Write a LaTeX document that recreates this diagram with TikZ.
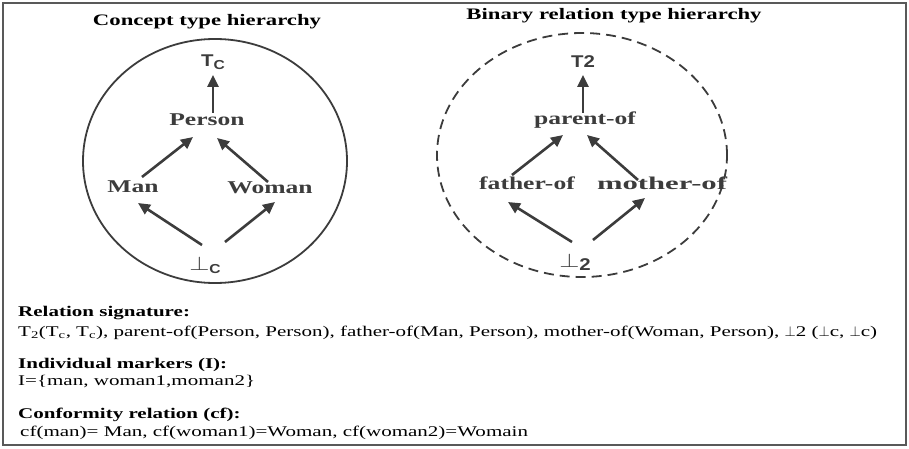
\documentclass[tikz,border=0pt]{standalone}
\usepackage{fontspec}
\setmainfont{Liberation Serif}[FakeStretch=1.42]
\newfontfamily\lsans{Liberation Sans}[FakeStretch=1.2]
\usetikzlibrary{arrows.meta,calc}
\definecolor{ink}{RGB}{60,60,60}
\newcommand{\bperp}{\scalebox{1.5}[1.15]{$\perp$}}
\tikzset{
  lbl/.style={font=\fontsize{18}{20}\selectfont\bfseries, text=ink, inner sep=1pt},
  top/.style={font=\fontsize{17}{18}\selectfont\lsans\bfseries, text=ink, inner sep=1pt},
  ttl/.style={font=\fontsize{16}{20}\selectfont\bfseries, text=black, inner sep=1pt},
  txt/.style={font=\fontsize{14.8}{18}\selectfont, anchor=west, inner sep=0pt},
  txtb/.style={font=\fontsize{14.8}{18}\selectfont\bfseries, anchor=west, inner sep=0pt},
  arr/.style={draw=ink, line width=2.6pt, -{Triangle[length=12pt,width=11pt]}},
  circ/.style={draw=ink, line width=1.8pt},
}
\begin{document}
\begin{tikzpicture}[x=1pt,y=-1pt]
\useasboundingbox (0,0) rectangle (909,449);
\draw[draw=ink!85, line width=2pt] (3,3) rectangle (906,445);
% titles
\node[ttl] (t1) at (207,22) {Concept type hierarchy};
\node[ttl] (t2) at (614,16) {Binary relation type hierarchy};
% circles
\draw[circ] (215,161) ellipse [x radius=132pt, y radius=122pt];
\draw[circ, dash pattern=on 10pt off 6pt] (582,155) ellipse [x radius=145pt, y radius=122pt];
% left hierarchy
\node[top] (tc) at (213,62) {T\raisebox{-3pt}{\fontsize{13}{13}\selectfont C}};
\node[lbl] (person) at (207,120) {Person};
\node[lbl] (man) at (133,187) {Man};
\node[lbl] (woman) at (270,188) {Woman};
\node[top] (botc) at (205,265) {\bperp\raisebox{-3pt}{\fontsize{13}{13}\selectfont C}};
\draw[arr] ($(person)+(6,-7)$) -- ($(tc)+(0,13)$);
\draw[arr] ($(man)+(9,-10)$) -- ($(person)+(-14,17)$);
\draw[arr] ($(woman)+(-2,-6)$) -- ($(person)+(10,18)$);
\draw[arr] ($(botc)+(-3,-20)$) -- ($(man)+(5,16)$);
\draw[arr] ($(botc)+(20,-23)$) -- ($(woman)+(5,14)$);
% right hierarchy
\node[top] (t2n) at (583,62) {T2};
\node[lbl] (parent) at (585,120) {parent-of};
\node[lbl] (father) at (527,183) {father-of};
\node[lbl] (mother) at (662,183) {\scalebox{1.2}[1]{mother-of}};
\node[top] (bot2) at (575,262) {\bperp\raisebox{-3pt}{2}};
\draw[arr] ($(parent)+(-2,-7)$) -- ($(t2n)+(0,13)$);
\draw[arr] ($(father)+(-15,-8)$) -- ($(parent)+(-22,15)$);
\draw[arr] ($(mother)+(-24,-3)$) -- ($(parent)+(2,15)$);
\draw[arr] ($(bot2)+(-3,-20)$) -- ($(father)+(-19,19)$);
\draw[arr] ($(bot2)+(18,-22)$) -- ($(mother)+(-17,15)$);
% text block
\node[txtb] (h1) at (18,313) {Relation signature:};
\node[txt] (l1) at (18,333) {T\textsubscript{2}(T\textsubscript{c}, T\textsubscript{c}), parent-of(Person, Person), father-of(Man, Person), mother-of(Woman, Person), $\perp$2 ($\perp$c, $\perp$c)};
\node[txtb] (h2) at (18,365) {Individual markers (I):};
\node[txt] (l2) at (18,382) {I=\{man, woman1,moman2\}};
\node[txtb] (h3) at (18,415) {Conformity relation (cf):};
\node[txt] (l3) at (20,433) {cf(man)= Man, cf(woman1)=Woman, cf(woman2)=Womain};
\end{tikzpicture}
\end{document}
